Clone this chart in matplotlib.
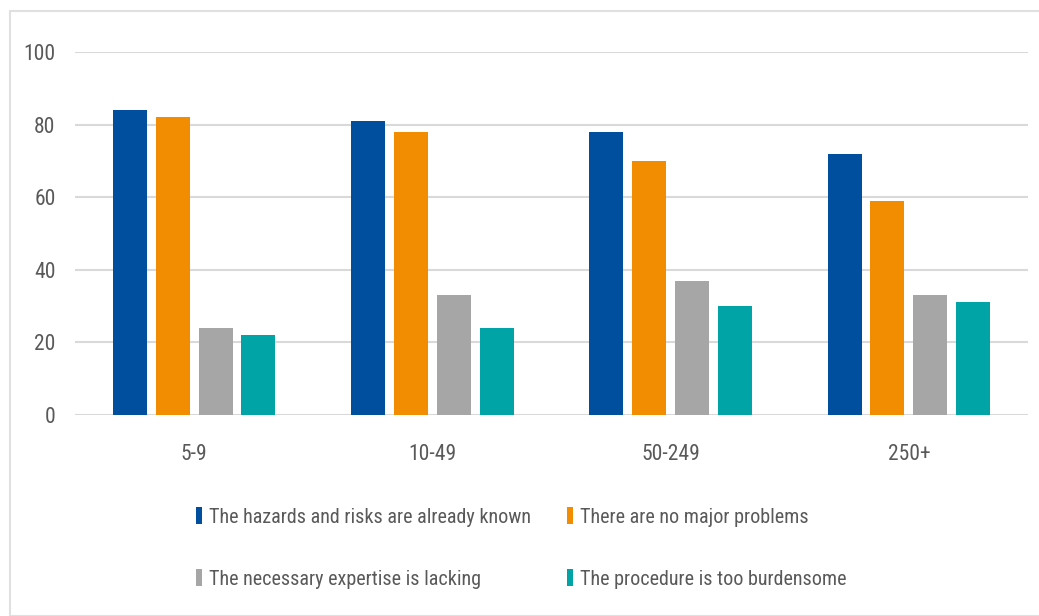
import matplotlib
matplotlib.use("Agg")
import matplotlib.pyplot as plt
from matplotlib import font_manager
from matplotlib.patches import Rectangle
import numpy as np

categories = ["5-9", "10-49", "50-249", "250+"]
series_names = [
    "The hazards and risks are already known",
    "There are no major problems",
    "The necessary expertise is lacking",
    "The procedure is too burdensome",
]
known = [84, 81, 78, 72]
no_problems = [82, 78, 70, 59]
no_expertise = [24, 33, 37, 33]
burdensome = [22, 24, 30, 31]
colors = ["#004f9f", "#f28c00", "#a6a6a6", "#00a3a6"]

# narrow font if one is around
fonts = font_manager.fontManager.ttflist
names = {f.name for f in fonts}
family = "DejaVu Sans"
for cand in ["Liberation Sans Narrow", "Roboto Condensed", "Open Sans Condensed"]:
    if cand in names:
        family = cand
        break
plt.rcParams["font.family"] = [family, "DejaVu Sans"]

text_color = "#595959"
grid_color = "#d9d9d9"

fig = plt.figure(figsize=(10.39, 6.16), dpi=100)
ax = fig.add_axes([75 / 1039, 201 / 616, 953 / 1039, 363 / 616])

# ==== bars ====
x = np.arange(len(categories))
pitch = 0.18
width = 0.143
bars = []
for i, (vals, name) in enumerate(zip([known, no_problems, no_expertise, burdensome], series_names)):
    bars.append(ax.bar(x + (i - 1.5) * pitch, vals, width, color=colors[i], label=name, zorder=3))

# ==== axes ====
ax.set_xlim(-0.5, len(categories) - 0.5)
ax.set_ylim(0, 100)
ax.set_yticks(range(0, 101, 20))
ax.set_xticks(x)
ax.set_xticklabels(categories)
ax.tick_params(length=0, labelsize=15.5, colors=text_color)
ax.tick_params(axis="y", pad=14)
ax.tick_params(axis="x", pad=21)
ax.grid(axis="y", color=grid_color, lw=1.5, zorder=0)
for s in ax.spines.values():
    s.set_visible(False)

# ==== legend (row-wise order) ====
order = [0, 2, 1, 3]
leg = fig.legend([bars[i] for i in order], [series_names[i] for i in order],
                 loc="upper left", bbox_to_anchor=(196 / 1039, 1 - 507 / 616),
                 ncol=2, frameon=False, fontsize=14.5, labelcolor=text_color,
                 handlelength=0.3, handleheight=0.95, handletextpad=0.35,
                 labelspacing=2.1, columnspacing=1.8, borderaxespad=0, borderpad=0)

# ==== outer border ====
fig.patches.append(Rectangle((10 / 1039, 0), 1.2, 1 - 11 / 616, transform=fig.transFigure,
                             fill=False, edgecolor="#e0e0e0", lw=1.5))

fig.savefig("out.png", dpi=100)
plt.close(fig)
